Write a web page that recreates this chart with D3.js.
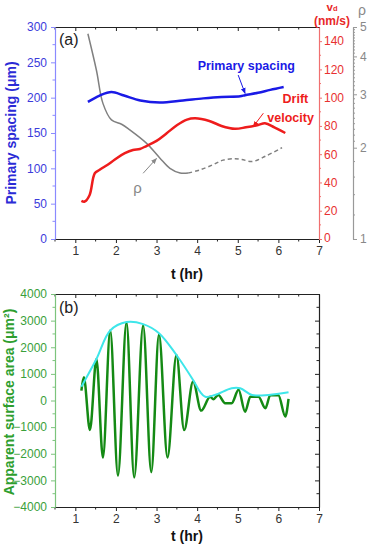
<!DOCTYPE html>
<html>
<head>
<meta charset="utf-8">
<script src="https://cdn.jsdelivr.net/npm/d3@7"></script>
<style>
  body { margin: 0; background: #fff; }
  svg { font-family: "Liberation Sans", Arial, sans-serif; }
</style>
</head>
<body>
<svg id="chart" width="370" height="544"></svg>
<script>
// panel (a) data
const xTicks = [1, 2, 3, 4, 5, 6, 7];
const spacingTicks = [0, 50, 100, 150, 200, 250, 300];
const vdTicks = [0, 20, 40, 60, 80, 100, 120, 140];
const rhoTicks = [1, 2, 3, 4, 5];

const spacingT = [1.31, 1.6, 1.89, 2.2, 2.6, 3.08, 3.65, 4.15, 4.6, 5.06, 5.18, 5.5, 5.8, 6.13];
const spacingV = [194, 203, 208, 203, 196, 193, 196, 199, 201, 202, 203.5, 207, 211, 215];

const driftT = [1.15, 1.23, 1.35, 1.48, 1.6, 1.85, 2.01, 2.22, 2.42, 2.59, 2.75, 3.0, 3.25, 3.5, 3.75, 3.95, 4.3, 4.6, 4.93, 5.2, 5.5, 5.67, 5.9, 6.17];
const driftV = [27, 26.5, 31, 46.5, 49, 53.6, 57, 60.7, 63, 63.7, 65.8, 69.4, 74.8, 80.5, 84.5, 85.4, 83.5, 80, 78, 79, 80.6, 81.9, 79, 75];

const rhoT = [1.31, 1.52, 1.68, 1.89, 2.14, 2.34, 2.75, 3.08, 3.33, 3.58, 3.78];
const rhoV = [4.75, 3.6, 2.8, 2.47, 2.39, 2.29, 2.07, 1.85, 1.71, 1.65, 1.65];
const rhoDashT = [3.78, 4.07, 4.4, 4.64, 4.93, 5.1, 5.35, 5.7, 6.09];
const rhoDashV = [1.65, 1.69, 1.76, 1.82, 1.84, 1.83, 1.8, 1.88, 2.0];

// panel (b) data
const areaTicks = [-4000, -3000, -2000, -1000, 0, 1000, 2000, 3000, 4000];
const areaT = [1.15, 1.21, 1.36, 1.52, 1.68, 1.86, 2.05, 2.26, 2.45, 2.67, 2.87, 3.06, 3.27, 3.49, 3.68, 3.9, 4.1, 4.32, 4.4, 4.52, 4.69, 4.85, 5.02, 5.18, 5.31, 5.51, 5.68, 5.8, 6.0, 6.17, 6.25];
const areaV = [370, 870, -1110, 1560, -2140, 2630, -2820, 2930, -2890, 2820, -2690, 2490, -2140, 1710, -1110, 710, -380, 140, 45, 210, -100, -100, 400, -420, 140, 140, -290, 200, 200, -600, 60];
const envT = [1.15, 1.52, 1.86, 2.26, 2.67, 3.06, 3.49, 3.9, 4.07, 4.2, 4.44, 4.85, 5.06, 5.35, 5.76, 6.25];
const envV = [520, 1560, 2630, 2945, 2870, 2530, 1710, 770, 330, 140, 210, 460, 460, 210, 210, 310];

const svg = d3.select('#chart');

const x = d3.scaleLinear().domain([0.5, 7]).range([55, 319]);
const ySp = d3.scaleLinear().domain([0, 300]).range([239, 27]);
const yVd = d3.scaleLinear().domain([0, 150]).range([239, 27]);
const yRho = d3.scaleLog().domain([1, 5]).range([239, 27]);
const yA = d3.scaleLinear().domain([-4000, 4000]).range([507, 294]);

const fmt = d3.format('d');
const minorX = d3.range(0.5, 7.01, 0.5).filter(v => !Number.isInteger(v));

// arrow markers
const defs = svg.append('defs');
[['blue', '#1a1ae6'], ['red', '#ee1c1c'], ['gray', '#888']].forEach(([id, c]) => {
  defs.append('marker')
    .attr('id', 'arr-' + id)
    .attr('viewBox', '0 0 10 10')
    .attr('refX', 9).attr('refY', 5)
    .attr('markerWidth', 6).attr('markerHeight', 6)
    .attr('orient', 'auto')
    .append('path')
    .attr('d', 'M0,1 L10,5 L0,9 Z')
    .attr('fill', c);
});

function styleAxis(g, color, labelColor) {
  g.select('.domain').attr('stroke', color).attr('stroke-width', 1.2);
  g.selectAll('.tick line').attr('stroke', color);
  g.selectAll('.tick text').attr('fill', labelColor || color).attr('font-size', 12);
}

function minor(g, vals, orient, scale, size, color) {
  g.selectAll(null).data(vals).enter().append('line')
    .attr('stroke', color)
    .each(function (d) {
      const s = d3.select(this);
      if (orient === 'h') s.attr('x1', scale(d)).attr('x2', scale(d)).attr('y1', 0).attr('y2', size);
      else s.attr('y1', scale(d)).attr('y2', scale(d)).attr('x1', 0).attr('x2', size);
    });
}

function xAxes(yBottom, yTop) {
  const gb = svg.append('g').attr('transform', `translate(0,${yBottom})`)
    .call(d3.axisBottom(x).tickValues(xTicks).tickFormat(fmt).tickSize(4).tickPadding(3).tickSizeOuter(0));
  styleAxis(gb, '#222');
  gb.selectAll('.tick text').attr('fill', '#333');
  minor(gb, minorX, 'h', x, 2.5, '#222');

  const gt = svg.append('g').attr('transform', `translate(0,${yTop})`)
    .call(d3.axisTop(x).tickValues(xTicks).tickSize(-4).tickFormat('').tickSizeOuter(0));
  styleAxis(gt, '#222');
  minor(gt, minorX, 'h', x, 2.5, '#222');
}

// ---------- panel (a) ----------
xAxes(239, 27);

const gSp = svg.append('g').attr('transform', 'translate(55,0)')
  .call(d3.axisLeft(ySp).tickValues(spacingTicks).tickFormat(fmt).tickSize(4).tickPadding(4).tickSizeOuter(0));
styleAxis(gSp, '#8a8aff', '#3c3cdc');
minor(gSp, d3.range(25, 300, 50), 'v', ySp, -2.5, '#8a8aff');

const gVd = svg.append('g').attr('transform', 'translate(319,0)')
  .call(d3.axisRight(yVd).tickValues(vdTicks).tickFormat(fmt).tickSize(3).tickPadding(2).tickSizeOuter(0));
styleAxis(gVd, '#f07070', '#e83030');
minor(gVd, d3.range(10, 150, 20), 'v', yVd, 2, '#f07070');
gVd.selectAll('.tick text').filter(d => d === 0).attr('dy', '0.2em');

const gRho = svg.append('g').attr('transform', 'translate(353,0)')
  .call(d3.axisRight(yRho).tickValues(rhoTicks).tickFormat(fmt).tickSize(4).tickPadding(3).tickSizeOuter(0));
styleAxis(gRho, '#999', '#888');
const rhoMinor = d3.range(1.2, 2, 0.2).concat(d3.range(2.1, 5, 0.1)).filter(v => Math.abs(v - Math.round(v)) > 0.01);
minor(gRho, rhoMinor, 'v', yRho, 2, '#999');

const lineSp = d3.line().x(d => x(d[0])).y(d => ySp(d[1])).curve(d3.curveCatmullRom);
const lineVd = d3.line().x(d => x(d[0])).y(d => yVd(d[1])).curve(d3.curveCatmullRom);
const lineRho = d3.line().x(d => x(d[0])).y(d => yRho(d[1])).curve(d3.curveCatmullRom);

svg.append('path').datum(d3.zip(rhoT, rhoV)).attr('d', lineRho)
  .attr('fill', 'none').attr('stroke', '#808080').attr('stroke-width', 1.5);
svg.append('path').datum(d3.zip(rhoDashT, rhoDashV)).attr('d', lineRho)
  .attr('fill', 'none').attr('stroke', '#808080').attr('stroke-width', 1.5).attr('stroke-dasharray', '4,3');
svg.append('path').datum(d3.zip(spacingT, spacingV)).attr('d', lineSp)
  .attr('fill', 'none').attr('stroke', '#1a1ae6').attr('stroke-width', 2.5);
svg.append('path').datum(d3.zip(driftT, driftV)).attr('d', lineVd)
  .attr('fill', 'none').attr('stroke', '#ee1c1c').attr('stroke-width', 2.5);

// annotations
svg.append('text').attr('x', x(5.21)).attr('y', ySp(239)).attr('text-anchor', 'middle')
  .attr('font-size', 12.5).attr('font-weight', 'bold').attr('fill', '#1a1ae6').text('Primary spacing');
svg.append('line').attr('x1', x(5.01)).attr('y1', ySp(232)).attr('x2', x(5.18)).attr('y2', ySp(206))
  .attr('stroke', '#1a1ae6').attr('stroke-width', 1).attr('marker-end', 'url(#arr-blue)');

svg.append('text').attr('x', x(6.42)).attr('y', yVd(96)).attr('text-anchor', 'middle')
  .attr('font-size', 12.5).attr('font-weight', 'bold').attr('fill', '#ee1c1c').text('Drift');
svg.append('text').attr('x', x(6.3)).attr('y', yVd(82.5)).attr('text-anchor', 'middle')
  .attr('font-size', 12.5).attr('font-weight', 'bold').attr('fill', '#ee1c1c').text('velocity');
svg.append('line').attr('x1', x(5.63)).attr('y1', yVd(89)).attr('x2', x(5.38)).attr('y2', yVd(79.5))
  .attr('stroke', '#ee1c1c').attr('stroke-width', 1).attr('marker-end', 'url(#arr-red)');

svg.append('text').attr('x', x(2.53)).attr('y', ySp(65)).attr('text-anchor', 'middle')
  .attr('font-size', 15).attr('fill', '#888').text('ρ');
svg.append('line').attr('x1', x(2.67)).attr('y1', ySp(93)).attr('x2', x(3.0)).attr('y2', ySp(114))
  .attr('stroke', '#888').attr('stroke-width', 1).attr('marker-end', 'url(#arr-gray)');

svg.append('text').attr('x', 59).attr('y', 45).attr('font-size', 16).attr('fill', '#222').text('(a)');

svg.append('text').attr('transform', 'translate(16,133) rotate(-90)').attr('text-anchor', 'middle')
  .attr('font-size', 14).attr('font-weight', 'bold').attr('fill', '#2b2bd6').text('Primary spacing (μm)');

const vd = svg.append('text').attr('x', 332).attr('y', 10.5).attr('text-anchor', 'middle')
  .attr('font-size', 11.5).attr('font-weight', 'bold').attr('fill', '#e82828');
vd.append('tspan').text('v');
vd.append('tspan').attr('font-size', 7.5).text('d');
svg.append('text').attr('x', 332).attr('y', 25).attr('text-anchor', 'middle')
  .attr('font-size', 12).attr('font-weight', 'bold').attr('fill', '#e82828').text('(nm/s)');
svg.append('text').attr('x', 362).attr('y', 15).attr('text-anchor', 'middle')
  .attr('font-size', 14).attr('fill', '#888').text('ρ');

svg.append('text').attr('x', 187).attr('y', 279).attr('text-anchor', 'middle')
  .attr('font-size', 14).attr('font-weight', 'bold').attr('fill', '#111').text('t (hr)');

// ---------- panel (b) ----------
xAxes(507, 294);

const gA = svg.append('g').attr('transform', 'translate(55,0)')
  .call(d3.axisLeft(yA).tickValues(areaTicks).tickFormat(fmt).tickSize(4).tickPadding(4).tickSizeOuter(0));
styleAxis(gA, '#7cc47c', '#3aa03a');
minor(gA, d3.range(-3500, 4000, 1000), 'v', yA, -2.5, '#7cc47c');

const gR = svg.append('g').attr('transform', 'translate(319,0)')
  .call(d3.axisRight(yA).tickValues(areaTicks).tickSize(-4).tickFormat('').tickSizeOuter(0));
styleAxis(gR, '#222');
minor(gR, d3.range(-3500, 4000, 1000), 'v', yA, -2.5, '#222');

const lineA = d3.line().x(d => x(d[0])).y(d => yA(d[1])).curve(d3.curveMonotoneX);
const lineE = d3.line().x(d => x(d[0])).y(d => yA(d[1])).curve(d3.curveCatmullRom);

svg.append('path').datum(d3.zip(areaT, areaV)).attr('d', lineA)
  .attr('fill', 'none').attr('stroke', '#148a14').attr('stroke-width', 2.5);
svg.append('path').datum(d3.zip(envT, envV)).attr('d', lineE)
  .attr('fill', 'none').attr('stroke', '#3ee6ea').attr('stroke-width', 2);

svg.append('text').attr('x', 59).attr('y', 313).attr('font-size', 16).attr('fill', '#222').text('(b)');

svg.append('text').attr('transform', 'translate(14,402) rotate(-90)').attr('text-anchor', 'middle')
  .attr('font-size', 14).attr('font-weight', 'bold').attr('fill', '#2e9e2e').text('Apparent surface area (μm²)');

svg.append('text').attr('x', 187).attr('y', 541).attr('text-anchor', 'middle')
  .attr('font-size', 14).attr('font-weight', 'bold').attr('fill', '#111').text('t (hr)');
</script>
</body>
</html>
